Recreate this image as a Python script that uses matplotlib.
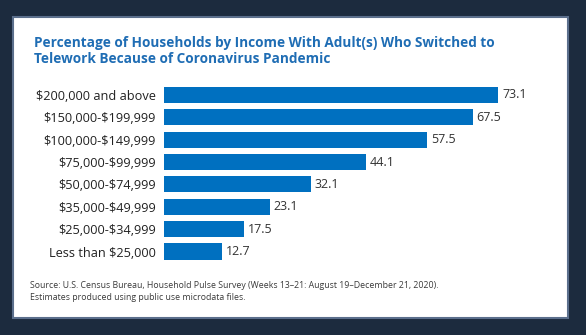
import matplotlib
matplotlib.use("Agg")
import matplotlib.pyplot as plt
from matplotlib.patches import Rectangle

# data, bottom to top as drawn
categories = ["Less than $25,000", "$25,000-$34,999", "$35,000-$49,999",
              "$50,000-$74,999", "$75,000-$99,999", "$100,000-$149,999",
              "$150,000-$199,999", "$200,000 and above"]
values = [12.7, 17.5, 23.1, 32.1, 44.1, 57.5, 67.5, 73.1]

title = ("Percentage of Households by Income With Adult(s) Who Switched to\n"
         "Telework Because of Coronavirus Pandemic")
source = ("Source: U.S. Census Bureau, Household Pulse Survey (Weeks 13\u201321: "
          "August 19\u2013December 21, 2020).\n"
          "Estimates produced using public use microdata files.")

BAR = "#0070c0"
W, H = 586, 335

fig = plt.figure(figsize=(W / 100, H / 100), dpi=100)
fig.patch.set_facecolor("#1c2b3e")

# white card, behind everything else
fig.patches.append(Rectangle((13 / W, 1 - 318 / H), 555 / W, 301 / H,
                             transform=fig.transFigure, facecolor="white",
                             edgecolor="#5b6f8c", linewidth=1.5, zorder=-5))

fig.text(34 / W, 1 - 36 / H, title, fontsize=9.85, fontweight="bold",
         color="#1f6db4", family="Open Sans", va="top", linespacing=1.2)
fig.text(30 / W, 1 - 281 / H, source, fontsize=6.3, color="#3a3a3a",
         family="Open Sans", va="top", linespacing=1.4)

ax = fig.add_axes([164 / W, 1 - 262.7 / H, 366 / W, 179 / H])
ax.set_zorder(2)
ax.set_facecolor("none")
y = range(len(categories))
ax.barh(y, values, height=0.72, color=BAR)
for yi, v in zip(y, values):
    ax.text(v + 0.8, yi, f"{v}", va="center", ha="left", fontsize=9,
            color="#333333", family="Open Sans")

ax.set_xlim(0, 80)
ax.set_ylim(-0.5, len(categories) - 0.5)
ax.set_yticks(list(y))
# escape $ so mathtext leaves the labels alone
ax.set_yticklabels([c.replace("$", r"\$") for c in categories], fontsize=9.2,
                   family="Open Sans", color="#222222")
ax.tick_params(axis="y", length=0, pad=6)
ax.set_xticks([])
for s in ax.spines.values():
    s.set_visible(False)

fig.savefig("out.png", dpi=100, facecolor=fig.get_facecolor())
